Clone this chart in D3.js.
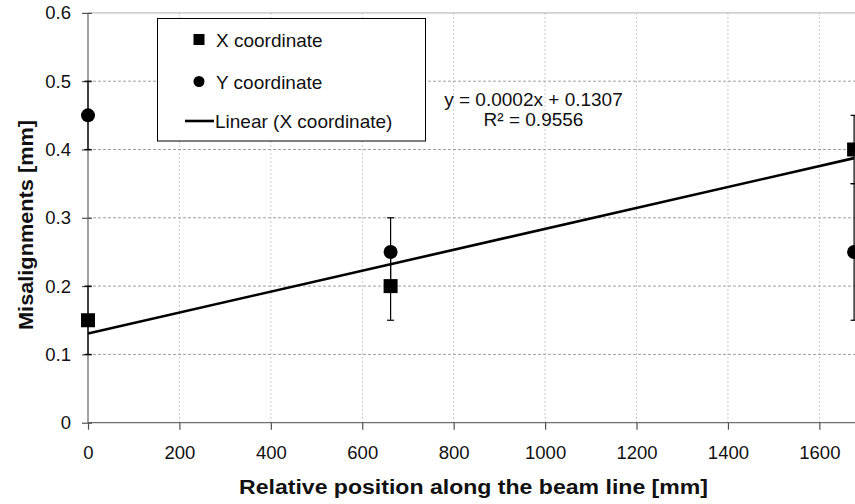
<!DOCTYPE html>
<html>
<head>
<meta charset="utf-8">
<script src="https://cdn.jsdelivr.net/npm/d3@7"></script>
<style>
  html, body { margin: 0; padding: 0; background: #fff; }
  svg { display: block; font-family: "Liberation Sans", Arial, sans-serif; }
</style>
</head>
<body>
<svg id="chart" width="855" height="504"></svg>
<script>
// Survey positions along the beam line [mm]
const positions = [0, 662, 1676];
// Measured misalignments [mm] and their uncertainties
const xCoord = [0.15, 0.20, 0.40];
const xErr = [0.05, 0.05, 0.05];
const yCoord = [0.45, 0.25, 0.25];
const yErr = [0.05, 0.05, 0.10];
// Axis ticks
const xTicks = [0, 200, 400, 600, 800, 1000, 1200, 1400, 1600];
const yTicks = [0, 0.1, 0.2, 0.3, 0.4, 0.5, 0.6];
const legendLabels = ["X coordinate", "Y coordinate", "Linear (X coordinate)"];
const fitLines = ["y = 0.0002x + 0.1307", "R\u00B2 = 0.9556"];

const svg = d3.select("#chart");
const x = d3.scaleLinear().domain([0, 1800]).range([88, 88 + 1800 * 0.4571]);
const y = d3.scaleLinear().domain([0, 0.6]).range([422.7, 12.9]);

// Grid
const grid = svg.append("g");
grid.selectAll("line.v").data(xTicks.filter(d => d > 0)).join("line")
  .attr("x1", d => x(d)).attr("x2", d => x(d))
  .attr("y1", y(0.6)).attr("y2", y(0))
  .attr("stroke", "#c8c8c8").attr("stroke-width", 1).attr("stroke-dasharray", "2,2");
grid.selectAll("line.h").data(yTicks.filter(d => d > 0 && d < 0.6)).join("line")
  .attr("x1", x(0)).attr("x2", 855)
  .attr("y1", d => y(d)).attr("y2", d => y(d))
  .attr("stroke", "#a0a0a0").attr("stroke-width", 1).attr("stroke-dasharray", "3,2");
grid.append("line")
  .attr("x1", x(0)).attr("x2", 855).attr("y1", y(0.6)).attr("y2", y(0.6))
  .attr("stroke", "#b0b0b0").attr("stroke-width", 1);

// Axes
const xAxis = d3.axisBottom(x).tickValues(xTicks).tickSize(7).tickPadding(16).tickFormat(d3.format("d"));
const yAxis = d3.axisLeft(y).tickValues(yTicks).tickSize(6).tickPadding(11).tickFormat(d => d === 0 ? "0" : d3.format(".1f")(d));

const gx = svg.append("g").attr("transform", `translate(0,${y(0)})`).call(xAxis);
gx.select(".domain").attr("d", `M${x(0)},0H855`);
const gy = svg.append("g").attr("transform", `translate(${x(0)},0)`).call(yAxis);
gy.select(".domain").attr("d", `M0,${y(0.6)}V${y(0)}`);
gy.selectAll(".tick line").attr("x2", 4).attr("x1", -6);

[gx, gy].forEach(g => {
  g.select(".domain").attr("stroke", "#707070").attr("stroke-width", 1.3);
  g.selectAll(".tick line").attr("stroke", "#505050").attr("stroke-width", 1.2);
  g.selectAll(".tick text").attr("fill", "#111").attr("font-size", 18.5)
    .attr("font-family", "'Liberation Sans', Arial, sans-serif");
});

// Axis titles
svg.append("text")
  .attr("x", 473.5).attr("y", 494)
  .attr("text-anchor", "middle").attr("font-weight", "bold").attr("font-size", 20)
  .attr("textLength", 469).attr("lengthAdjust", "spacingAndGlyphs")
  .attr("fill", "#111")
  .text("Relative position along the beam line [mm]");
svg.append("text")
  .attr("transform", `translate(32.5,225) rotate(-90)`)
  .attr("text-anchor", "middle").attr("font-weight", "bold").attr("font-size", 21)
  .attr("textLength", 210).attr("lengthAdjust", "spacingAndGlyphs")
  .attr("fill", "#111")
  .text("Misalignments [mm]");

// Linear fit of the X coordinate series (least squares)
const mx = d3.mean(positions), my = d3.mean(xCoord);
const slope = d3.sum(positions, (p, i) => (p - mx) * (xCoord[i] - my)) /
              d3.sum(positions, p => (p - mx) ** 2);
const intercept = my - slope * mx;
const fitX = [0, d3.max(positions)];
svg.append("path")
  .datum(fitX)
  .attr("d", d3.line().x(d => x(d)).y(d => y(intercept + slope * d)))
  .attr("stroke", "#000").attr("stroke-width", 2.6).attr("fill", "none");

// Error bars
function errorBars(vals, errs) {
  const g = svg.append("g").attr("stroke", "#000").attr("stroke-width", 1.2);
  vals.forEach((v, i) => {
    const cx = x(positions[i]);
    g.append("line").attr("x1", cx).attr("x2", cx).attr("y1", y(v - errs[i])).attr("y2", y(v + errs[i]));
    [v - errs[i], v + errs[i]].forEach(e => {
      g.append("line").attr("x1", cx - 3.5).attr("x2", cx + 3.5).attr("y1", y(e)).attr("y2", y(e));
    });
  });
}
errorBars(xCoord, xErr);
errorBars(yCoord, yErr);

// Markers
svg.append("g").selectAll("rect").data(xCoord).join("rect")
  .attr("x", (d, i) => x(positions[i]) - 7).attr("y", d => y(d) - 7)
  .attr("width", 14).attr("height", 14).attr("fill", "#000");
svg.append("g").selectAll("circle").data(yCoord).join("circle")
  .attr("cx", (d, i) => x(positions[i])).attr("cy", d => y(d))
  .attr("r", 7).attr("fill", "#000");

// Legend
const lg = svg.append("g");
lg.append("rect").attr("x", 157.5).attr("y", 18.5).attr("width", 268).attr("height", 122.5)
  .attr("fill", "#fff").attr("stroke", "#000").attr("stroke-width", 1);
const rowY = [39.5, 81.5, 121];
lg.append("rect").attr("x", 193.5).attr("y", rowY[0] - 5.5).attr("width", 11).attr("height", 11).attr("fill", "#000");
lg.append("circle").attr("cx", 199).attr("cy", rowY[1]).attr("r", 5.5).attr("fill", "#000");
lg.append("line").attr("x1", 185).attr("x2", 214).attr("y1", rowY[2]).attr("y2", rowY[2])
  .attr("stroke", "#000").attr("stroke-width", 2.6);
lg.selectAll("text").data(legendLabels).join("text")
  .attr("x", (d, i) => i === 2 ? 215 : 216).attr("y", (d, i) => rowY[i] + 7)
  .attr("font-size", 19).attr("fill", "#111").text(d => d);

// Fit equation
svg.append("g").selectAll("text").data(fitLines).join("text")
  .attr("x", 533.5).attr("y", (d, i) => 106 + i * 19.5)
  .attr("text-anchor", "middle").attr("font-size", 19).attr("fill", "#111")
  .text(d => d);
</script>
</body>
</html>
